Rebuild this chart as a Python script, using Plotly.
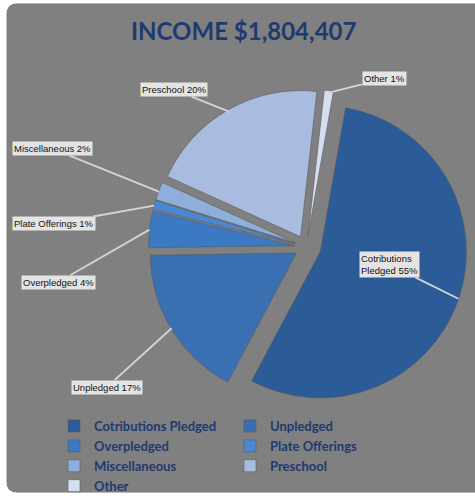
import math
import plotly.graph_objects as go

# ---- data ----
categories = ["Cotributions Pledged", "Unpledged", "Overpledged", "Plate Offerings",
              "Miscellaneous", "Preschool", "Other"]
label_names = ["Cotributions<br>Pledged", "Unpledged", "Overpledged", "Plate Offerings",
               "Miscellaneous", "Preschool", "Other"]
percent_values = [55, 17, 4, 1, 2, 20, 1]
colors = ["#2b5c98", "#3a6fb1", "#3b79c2", "#4a88d3", "#8eaedb", "#a9bcdf", "#d3def1"]
pulls = [0.10, 0.08, 0.08, 0.08, 0.08, 0.08, 0.08]
title_text = "INCOME $1,804,407"

W, H = 475, 501
ROT = 10
dom_x = [0.302, 0.988]
dom_y = [0.176, 0.826]

fig = go.Figure()
fig.add_trace(go.Pie(
    labels=categories, values=percent_values, sort=False, direction="clockwise",
    rotation=ROT, pull=pulls, textinfo="none", hoverinfo="label+percent",
    marker=dict(colors=colors, line=dict(color="#5a5a5a", width=0.6)),
    domain=dict(x=dom_x, y=dom_y), showlegend=True,
))

# pie geometry (mirrors plotly's own scaling) for leader-line tips
bw = W * (dom_x[1] - dom_x[0])
bh = H * (dom_y[1] - dom_y[0])
r = min(bw, bh) / (2 + 2 * max(pulls))
cx = W * (dom_x[0] + dom_x[1]) / 2
cy = H * (1 - (dom_y[0] + dom_y[1]) / 2)
total = sum(percent_values)

# label box positions (pixels) -- layout only
label_pos = [(389, 268), (107, 391), (58, 285), (54, 226), (52, 151), (174, 91), (384, 80)]

start = ROT
for i, v in enumerate(percent_values):
    span = 360.0 * v / total
    mid = math.radians(start + span / 2)
    start += span
    dist = r * (1 + pulls[i]) - 2
    tx = cx + dist * math.sin(mid)
    ty = cy - dist * math.cos(mid)
    lx, ly = label_pos[i]
    fig.add_annotation(
        x=tx / W, y=1 - ty / H, xref="paper", yref="paper",
        ax=lx - tx, ay=ly - ty, axref="pixel", ayref="pixel",
        text=f"{label_names[i]} {v}%", showarrow=True, arrowhead=0,
        arrowwidth=1.8, arrowcolor="#d4d4d4", standoff=0, startstandoff=0,
        bgcolor="#e4e4e4", borderpad=1,
        font=dict(family="Liberation Sans, Arial", size=9.5, color="#111111"),
        align="left",
    )

fig.add_annotation(
    x=244 / W, y=1 - 31 / H, xref="paper", yref="paper", showarrow=False,
    xanchor="center", yanchor="middle",
    text=f"<b>{title_text}</b>",
    font=dict(family="Lato, Open Sans", size=24, color="#1f3a70"),
)

# rounded gray panel
x0, y0, x1, y1 = 7 / W, 1 - 4 / H, 1.02, 1 - 498 / H
rx, ry = 10 / W, 10 / H
path = (f"M {x0+rx},{y0} L {x1},{y0} L {x1},{y1} L {x0+rx},{y1} "
        f"Q {x0},{y1} {x0},{y1+ry} L {x0},{y0-ry} Q {x0},{y0} {x0+rx},{y0} Z")
fig.add_shape(type="path", path=path, xref="paper", yref="paper",
              fillcolor="#808080", line=dict(color="#7a7a7a", width=1), layer="below")

fig.update_layout(
    width=W, height=H, margin=dict(l=0, r=0, t=0, b=0),
    paper_bgcolor="#ffffff", plot_bgcolor="#ffffff",
    legend=dict(
        orientation="h", x=54 / W, xanchor="left", y=1 - 416 / H, yanchor="top",
        entrywidth=131, entrywidthmode="pixels", itemwidth=30,
        font=dict(family="Lato, Open Sans", size=13, color="#1f3a70", weight="bold"),
        bgcolor="rgba(0,0,0,0)", tracegroupgap=0, traceorder="normal",
    ),
)

fig.write_html("out.html", config={"displayModeBar": False},
               post_script="document.body.style.margin='0';document.body.style.overflow='hidden';")
